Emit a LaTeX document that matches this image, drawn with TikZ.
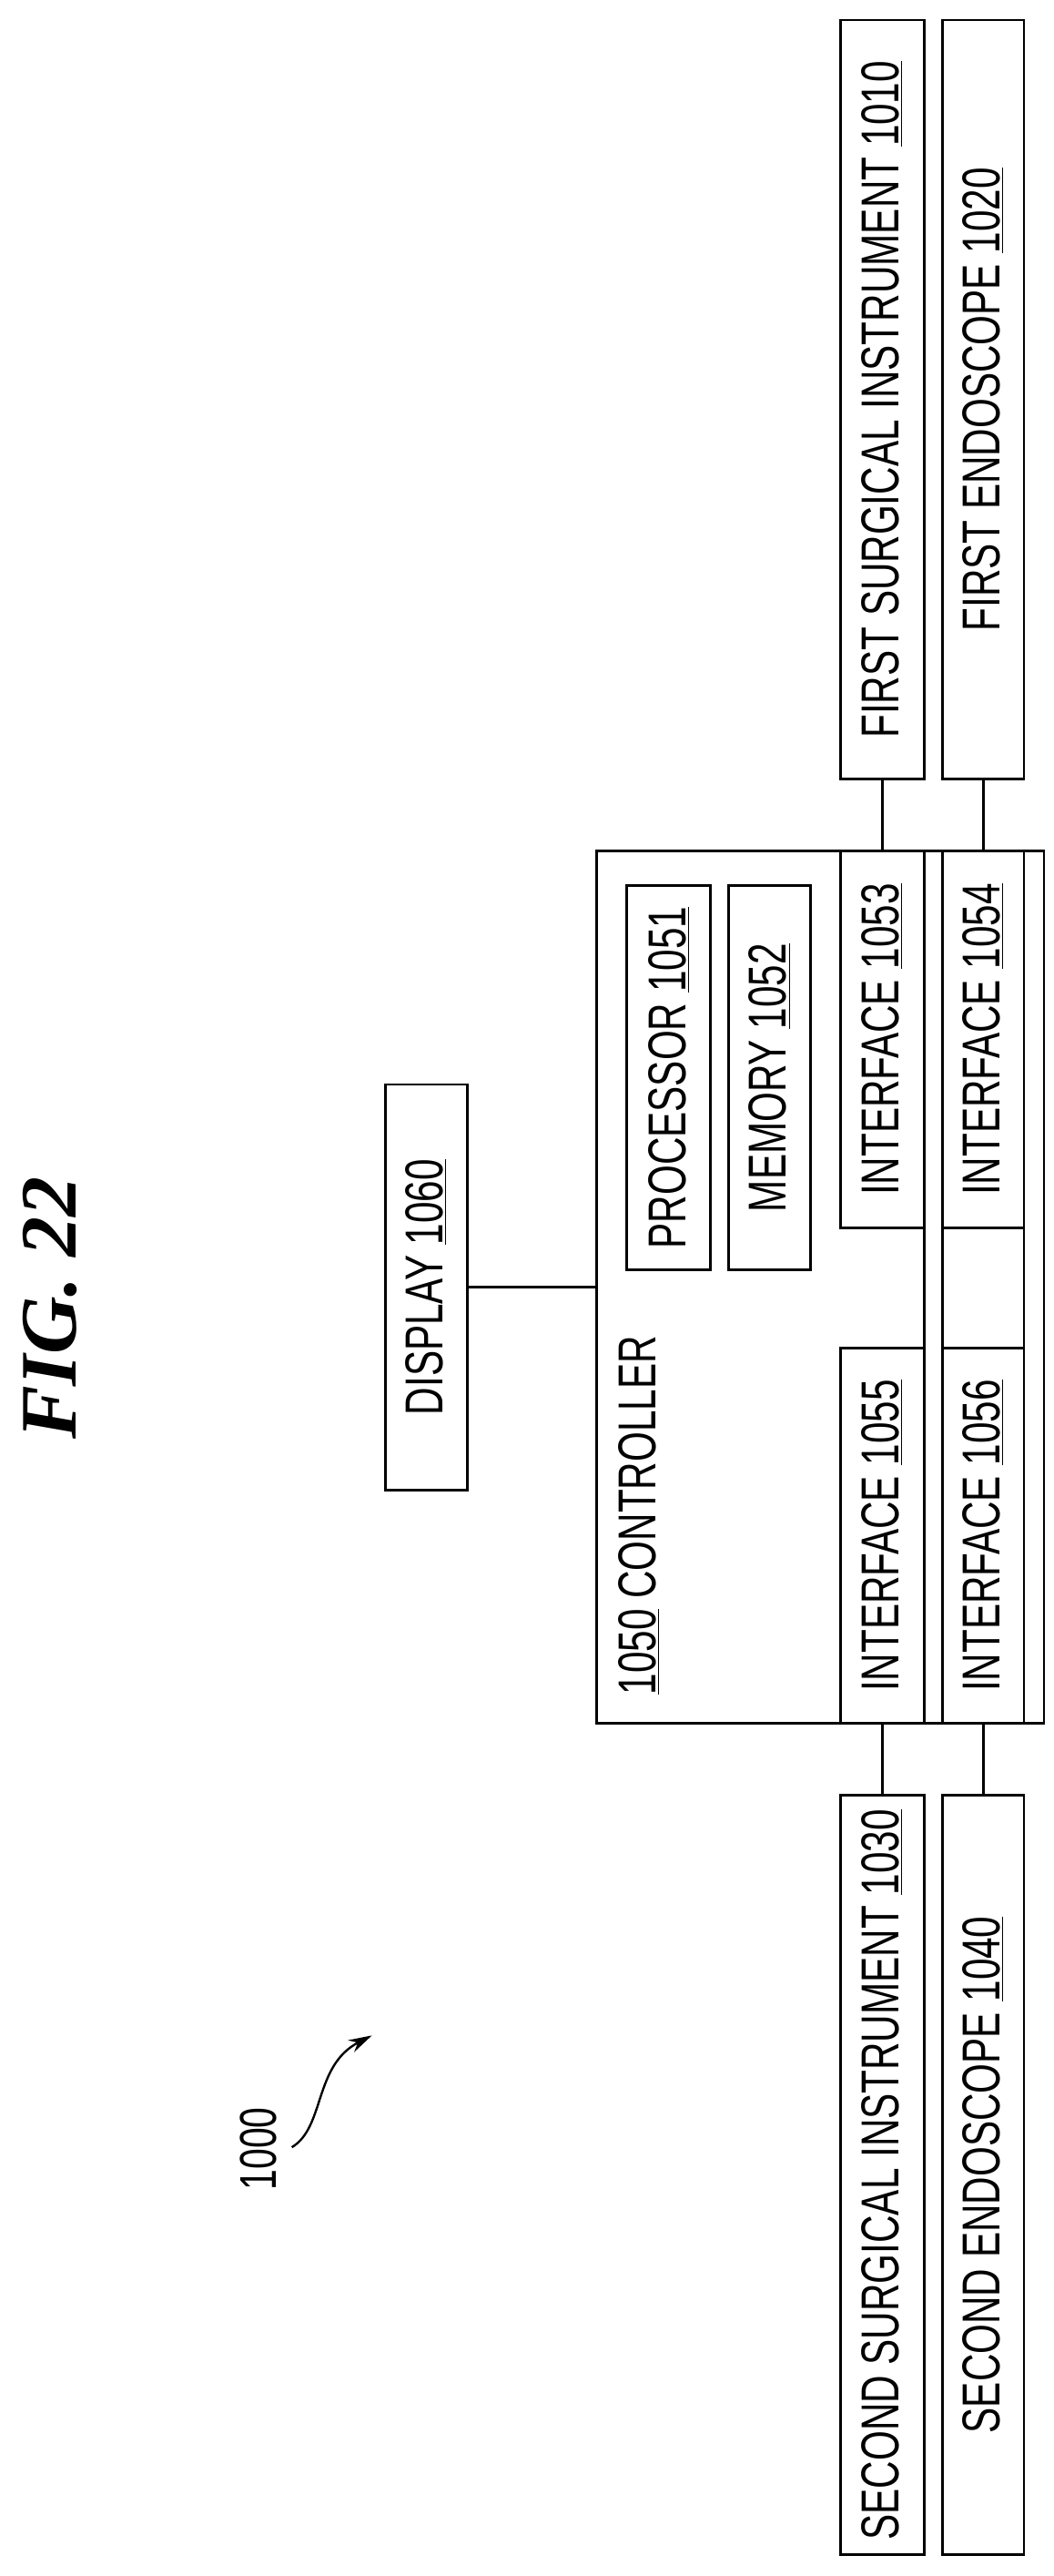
\documentclass[tikz,border=0pt]{standalone}
\usepackage{fontspec}
\setmainfont{Liberation Sans}[FakeStretch=0.72]
\newfontfamily\figfont{Liberation Serif}
\usetikzlibrary{arrows.meta}
\begin{document}
\begin{tikzpicture}[x=1pt,y=-1pt,line width=1.6pt,
  lab/.style={font=\fontsize{32}{34}\selectfont},
  box/.style={draw,rotate=90,inner sep=0pt,lab},
  wire/.style={line width=1.6pt}]
\useasboundingbox (0,0) rectangle (632,1544);
% title
\node[rotate=90,font=\figfont\bfseries\itshape\fontsize{48}{50}\selectfont] (fig) at (30,784) {FIG. 22};
% instruments
\node[box,minimum width=455pt,minimum height=50pt] (i1) at (529,239.5) {FIRST SURGICAL INSTRUMENT \underline{1010}};
\node[box,minimum width=455pt,minimum height=49pt] (e1) at (589.5,239.5) {FIRST ENDOSCOPE \underline{1020}};
\node[box,minimum width=455pt,minimum height=50pt] (i2) at (529,1303.5) {SECOND SURGICAL INSTRUMENT \underline{1030}};
\node[box,minimum width=455pt,minimum height=49pt] (e2) at (589.5,1303.5) {SECOND ENDOSCOPE \underline{1040}};
% controller
\node[draw,minimum width=268pt,minimum height=523pt,inner sep=0pt] (ctrl) at (492,771.5) {};
\node[rotate=90,lab,anchor=west] (ctext) at (383,1020) {\underline{1050} CONTROLLER};
\draw (554,510) -- (554,1033) (565,510) -- (565,1033) (614,510) -- (614,1033);
\node[box,minimum width=226pt,minimum height=50pt] (f3) at (529,623) {INTERFACE \underline{1053}};
\node[box,minimum width=226pt,minimum height=49pt] (f4) at (589.5,623) {INTERFACE \underline{1054}};
\node[box,minimum width=225pt,minimum height=50pt] (f5) at (529,920.5) {INTERFACE \underline{1055}};
\node[box,minimum width=225pt,minimum height=49pt] (f6) at (589.5,920.5) {INTERFACE \underline{1056}};
\node[box,minimum width=230pt,minimum height=50pt] (proc) at (401,646) {PROCESSOR \underline{1051}};
\node[box,minimum width=230pt,minimum height=49pt] (mem) at (461.5,646) {MEMORY \underline{1052}};
% display
\node[box,minimum width=243pt,minimum height=49pt] (disp) at (255.5,771.5) {DISPLAY \underline{1060}};
% connectors
\draw[wire] (disp.south) -- (ctrl.west);
\draw[wire] (i1.west) -- (f3.east);
\draw[wire] (e1.west) -- (f4.east);
\draw[wire] (i2.east) -- (f5.west);
\draw[wire] (e2.east) -- (f6.west);
% reference label
\node[rotate=90,font=\fontsize{31}{33}\selectfont] (ref) at (155,1288) {1000};
\coordinate (tip) at (223,1220);
\draw[line width=1.3pt,-{Stealth[length=14pt,width=8pt]}] (175,1287) .. controls (195,1275) and (188,1238) .. (tip);
\end{tikzpicture}
\end{document}
